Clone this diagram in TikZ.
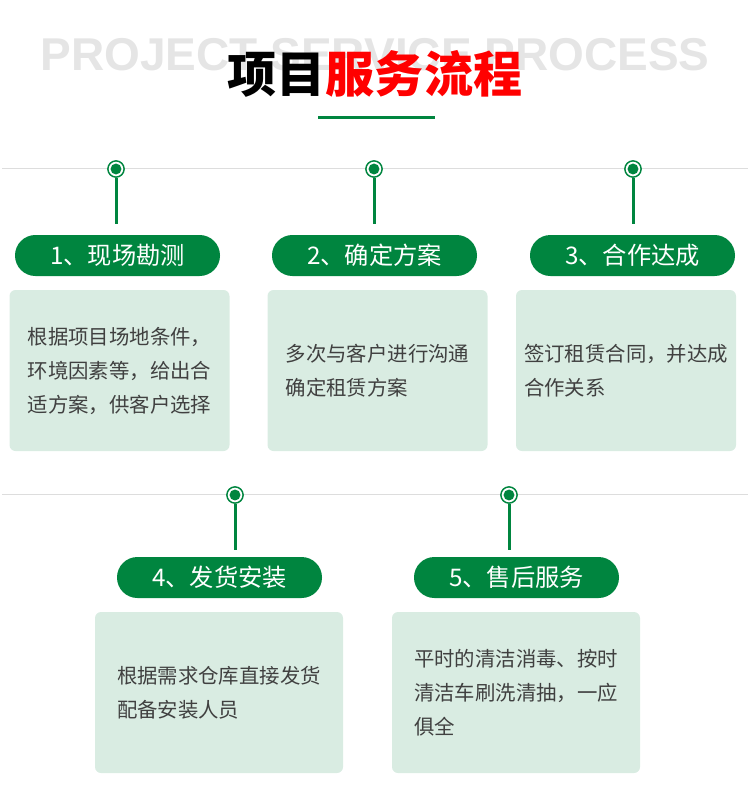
\documentclass[tikz,border=0pt]{standalone}
\usepackage{fontspec}
\setmainfont{Noto Sans CJK SC}
\newfontfamily\ghostfont{Liberation Sans}
\usetikzlibrary{calc}
\definecolor{mGreen}{RGB}{0,133,63}
\definecolor{boxFill}{RGB}{217,236,226}
\definecolor{ruleGray}{RGB}{221,221,221}
\definecolor{ghostGray}{RGB}{229,229,229}
\definecolor{bodyText}{RGB}{64,64,64}
\definecolor{titleRed}{RGB}{255,0,0}
\tikzset{
  pill/.style={rectangle, rounded corners=15.3pt, fill=mGreen, text=white,
    minimum width=153.75pt, minimum height=30.75pt, inner sep=0pt,
    font=\fontsize{18.2pt}{20pt}\selectfont},
  infobox/.style={rectangle, rounded corners=4.5pt, fill=boxFill, text=bodyText,
    minimum height=120.75pt, align=left, inner sep=0pt,
    font=\fontsize{15.3pt}{25.5pt}\selectfont},
  pinring/.style={circle, draw=mGreen, line width=1.1pt, fill=white,
    minimum size=12.2pt, inner sep=0pt},
  stemln/.style={mGreen, line width=2.25pt},
  ruleln/.style={ruleGray, line width=0.75pt},
}
\newcommand{\pinmark}[2]{%
  \node[pinring] (#1) at #2 {};
  \fill[mGreen] (#1.center) circle (4.1pt);
}

\begin{document}
\begin{tikzpicture}[x=0.75pt, y=-0.75pt]
  \useasboundingbox (0,0) rectangle (750,794);
  % heading
  \node[ghostGray, font=\ghostfont\bfseries\fontsize{34.5pt}{36pt}\selectfont] (ghost) at (375,55) {PROJECT SERVICE PROCESS};
  \node[font=\bfseries\fontsize{36.8pt}{40pt}\selectfont] (title) at (375,74) {项目\textcolor{titleRed}{服务流程}};
  \draw[mGreen, line width=2.25pt] (318,117) -- (435,117);
  % rules
  \draw[ruleln] (2,168) -- (748,168);
  \draw[ruleln] (2,494) -- (748,494);
  % first row
  \pinmark{p1}{(116,169)}
  \pinmark{p2}{(374,169)}
  \pinmark{p3}{(633,169)}
  \node[pill] (l1) at (117.5,255.5) {1、现场勘测};
  \node[pill] (l2) at (374.5,255.5) {2、确定方案};
  \node[pill] (l3) at (632.5,255.5) {3、合作达成};
  \foreach \i in {1,2,3}
    \draw[stemln, shorten >=8pt] (p\i) -- (p\i |- l\i.north);
  \node[infobox, minimum width=165pt] (b1) at (119.5,370.5)
    {根据项目场地条件，\\环境因素等，给出合\\适方案，供客户选择};
  \node[infobox, minimum width=165pt] (b2) at (377.5,370.5)
    {多次与客户进行沟通\\确定租赁方案};
  \node[infobox, minimum width=165pt] (b3) at (626,370.5)
    {签订租赁合同，并达成\\合作关系};
  % second row
  \pinmark{p4}{(235,495)}
  \pinmark{p5}{(509,495)}
  \node[pill] (l4) at (219.5,577.5) {4、发货安装};
  \node[pill] (l5) at (516.5,577.5) {5、售后服务};
  \foreach \i in {4,5}
    \draw[stemln, shorten >=5pt] (p\i) -- (p\i |- l\i.north);
  \node[infobox, minimum width=186pt] (b4) at (219,692.5)
    {根据需求仓库直接发货\\配备安装人员};
  \node[infobox, minimum width=186pt] (b5) at (516,692.5)
    {平时的清洁消毒、按时\\清洁车刷洗清抽，一应\\俱全};
\end{tikzpicture}
\end{document}
